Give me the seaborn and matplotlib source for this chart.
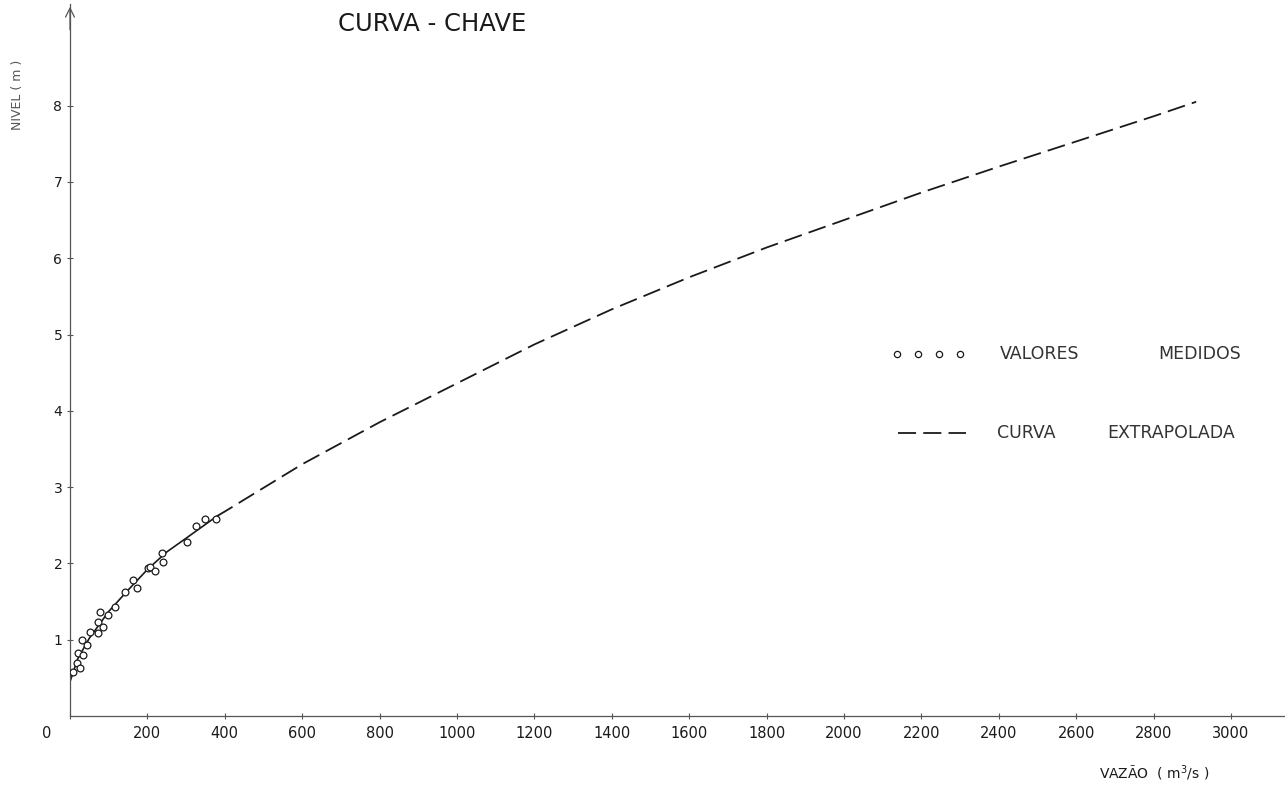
import matplotlib
matplotlib.use("Agg")
import matplotlib.pyplot as plt
import matplotlib.transforms as mtransforms
import pandas as pd
import seaborn as sns

# Measured discharge (m3/s) and stage (m)
measured_q = [8, 18, 21, 26, 31, 34, 44, 52, 72, 72, 78, 85, 98, 116, 142,
              163, 173, 202, 207, 220, 238, 240, 302, 326, 349, 377]
measured_h = [0.58, 0.69, 0.83, 0.63, 1.00, 0.80, 0.93, 1.10, 1.23, 1.09, 1.36,
              1.17, 1.32, 1.43, 1.63, 1.78, 1.68, 1.94, 1.95, 1.90, 2.14, 2.02,
              2.28, 2.49, 2.58, 2.58]

# Rating curve within the measured range
fitted_q = [0, 20, 50, 100, 150, 200, 250, 300, 380]
fitted_h = [0.45, 0.75, 1.02, 1.37, 1.65, 1.92, 2.15, 2.33, 2.62]

# Extrapolated rating curve
extrap_q = [380, 400, 600, 800, 1000, 1200, 1400, 1600, 1800, 2000, 2200,
            2400, 2600, 2800, 2910]
extrap_h = [2.62, 2.68, 3.30, 3.85, 4.36, 4.87, 5.33, 5.75, 6.14, 6.50, 6.86,
            7.20, 7.53, 7.86, 8.05]

x_ticks = [0, 200, 400, 600, 800, 1000, 1200, 1400, 1600, 1800, 2000,
           2200, 2400, 2600, 2800, 3000]
x_tick_labels = [str(v) for v in x_ticks]
y_ticks = [1, 2, 3, 4, 5, 6, 7, 8]
y_tick_labels = [str(v) for v in y_ticks]

sns.set_theme(style="white")
plt.rcParams["font.family"] = ["DejaVu Sans"]

W, H = 1285, 787
fig = plt.figure(figsize=(W / 100, H / 100), dpi=100)
fig.patch.set_facecolor("white")

left_px, bottom_px, top_px = 70, 716, 4
ax = fig.add_axes([left_px / W, (H - bottom_px) / H,
                   (W - left_px) / W, (bottom_px - top_px) / H])
ax.set_facecolor("white")

ink = "#1a1a1a"
grey = "#555555"

meas = pd.DataFrame({"q": measured_q, "h": measured_h})
fit = pd.DataFrame({"q": fitted_q, "h": fitted_h})
ext = pd.DataFrame({"q": extrap_q, "h": extrap_h})

sns.lineplot(data=fit, x="q", y="h", ax=ax, color=ink, lw=1.2,
             sort=False, estimator=None)
sns.lineplot(data=ext, x="q", y="h", ax=ax, color=ink, lw=1.3,
             sort=False, estimator=None, linestyle=(0, (10, 4)))
sns.scatterplot(data=meas, x="q", y="h", ax=ax, s=24, marker="o",
                facecolor="white", edgecolor=ink, linewidth=0.9, zorder=3)

ax.set_xlim(0, (W - left_px) / 0.387)
ax.set_ylim(0, (bottom_px - top_px) / 76.3)

ax.set_xticks(x_ticks)
ax.set_xticklabels(x_tick_labels)
ax.set_yticks(y_ticks)
ax.set_yticklabels(y_tick_labels)
ax.set_xlabel("")
ax.set_ylabel("")

for side in ("top", "right"):
    ax.spines[side].set_visible(False)
for side in ("left", "bottom"):
    ax.spines[side].set_color(grey)
    ax.spines[side].set_linewidth(0.9)

ax.tick_params(axis="both", direction="inout", length=5, width=0.8,
               color=grey, labelcolor=ink)
ax.tick_params(axis="x", labelsize=10.5, pad=5, bottom=True)
ax.tick_params(axis="y", labelsize=10, pad=3, left=True)

# the origin label sits left of the corner
first = ax.get_xticklabels()[0]
first.set_transform(first.get_transform() +
                    mtransforms.ScaledTranslation(-23 / 100, 0, fig.dpi_scale_trans))

# arrowhead at the top of the stage axis
ax.annotate("", xy=(0, 1.0), xytext=(0, 0.96), xycoords="axes fraction",
            arrowprops=dict(arrowstyle="->", color=grey, lw=0.9,
                            mutation_scale=16), annotation_clip=False)

fig.text(432 / W, 1 - 24 / H, "CURVA - CHAVE", ha="center", va="center",
         fontsize=17.5, color=ink)
fig.text(18 / W, 1 - 95 / H, "NIVEL ( m )", rotation=90, ha="center",
         va="center", fontsize=9, color=grey)
fig.text(1154 / W, 1 - 773 / H, "VAZÃO  ( m$^3$/s )", ha="center",
         va="center", fontsize=10, color=ink)

# legend
def axfrac(px, py):
    return (px - left_px) / (W - left_px), (bottom_px - py) / (bottom_px - top_px)

mx, my = zip(*[axfrac(p, 354) for p in (897, 918, 939, 960)])
ax.plot(mx, my, ls="none", marker="o", ms=4.5, mfc="white", mec=ink,
        mew=0.9, transform=ax.transAxes, clip_on=False)
lx, ly = zip(*[axfrac(p, 433) for p in (898, 966)])
ax.plot(lx, ly, color=ink, lw=1.3, ls=(0, (10, 4)),
        transform=ax.transAxes, clip_on=False)

for word, px, py in [("VALORES", 1040, 354), ("MEDIDOS", 1200, 354),
                     ("CURVA", 1026, 433), ("EXTRAPOLADA", 1171, 433)]:
    tx, ty = axfrac(px, py)
    ax.text(tx, ty, word, transform=ax.transAxes, ha="center", va="center",
            fontsize=12.5, color="#333333")

fig.savefig("out.png", dpi=100, facecolor="white")
